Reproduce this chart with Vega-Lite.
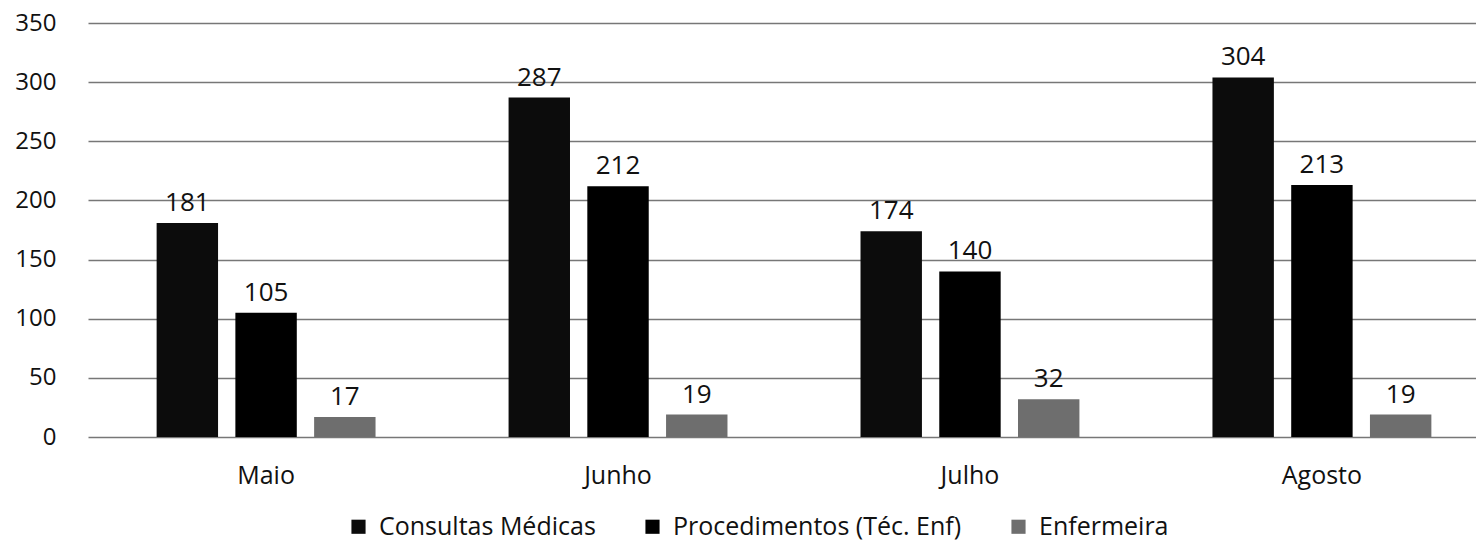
{
  "$schema": "https://vega.github.io/schema/vega-lite/v6.json",
  "width": 1412,
  "height": 414,
  "autosize": {"type": "pad"},
  "padding": {"left": 14, "right": 0, "top": 11, "bottom": 50},
  "background": "white",
  "config": {
    "font": "Open Sans",
    "view": {"stroke": null}
  },
  "data": {
    "values": [
      {"mes": "Maio", "serie": "Consultas Médicas", "valor": 181},
      {"mes": "Maio", "serie": "Procedimentos (Téc. Enf)", "valor": 105},
      {"mes": "Maio", "serie": "Enfermeira", "valor": 17},
      {"mes": "Junho", "serie": "Consultas Médicas", "valor": 287},
      {"mes": "Junho", "serie": "Procedimentos (Téc. Enf)", "valor": 212},
      {"mes": "Junho", "serie": "Enfermeira", "valor": 19},
      {"mes": "Julho", "serie": "Consultas Médicas", "valor": 174},
      {"mes": "Julho", "serie": "Procedimentos (Téc. Enf)", "valor": 140},
      {"mes": "Julho", "serie": "Enfermeira", "valor": 32},
      {"mes": "Agosto", "serie": "Consultas Médicas", "valor": 304},
      {"mes": "Agosto", "serie": "Procedimentos (Téc. Enf)", "valor": 213},
      {"mes": "Agosto", "serie": "Enfermeira", "valor": 19}
    ]
  },
  "encoding": {
    "x": {
      "field": "mes", "type": "nominal",
      "sort": ["Maio", "Junho", "Julho", "Agosto"],
      "scale": {"paddingInner": 0.378, "paddingOuter": 0.195},
      "axis": {"title": null, "labelAngle": 0, "domain": false, "ticks": false,
               "labelFontSize": 25, "labelColor": "#111", "labelPadding": 26}
    },
    "xOffset": {
      "field": "serie", "type": "nominal",
      "sort": ["Consultas Médicas", "Procedimentos (Téc. Enf)", "Enfermeira"],
      "scale": {"paddingInner": 0.22, "paddingOuter": 0}
    },
    "y": {
      "field": "valor", "type": "quantitative",
      "scale": {"domain": [0, 350], "nice": false},
      "axis": {"title": null, "values": [0, 50, 100, 150, 200, 250, 300, 350],
               "domain": false, "ticks": false, "labelFontSize": 24, "labelColor": "#111",
               "labelPadding": 32, "gridColor": "#555", "gridWidth": 1.3, "gridOpacity": 0.8}
    }
  },
  "layer": [
    {
      "mark": {"type": "bar"},
      "encoding": {
        "color": {
          "field": "serie", "type": "nominal",
          "sort": ["Consultas Médicas", "Procedimentos (Téc. Enf)", "Enfermeira"],
          "scale": {"domain": ["Consultas Médicas", "Procedimentos (Téc. Enf)", "Enfermeira"],
                    "range": ["#0c0c0c", "#000000", "#6e6e6e"]},
          "legend": {"title": null, "orient": "none", "direction": "horizontal",
                     "legendX": 258, "legendY": 491,
                     "symbolType": "square", "symbolSize": 200, "labelFontSize": 25,
                     "labelLimit": 500, "labelOffset": 8,
                     "labelColor": "#111", "columnPadding": 44, "symbolStrokeWidth": 0}
        }
      }
    },
    {
      "mark": {"type": "text", "baseline": "bottom", "dy": -7, "fontSize": 26, "color": "#111"},
      "encoding": {"text": {"field": "valor", "type": "quantitative"}}
    }
  ]
}
